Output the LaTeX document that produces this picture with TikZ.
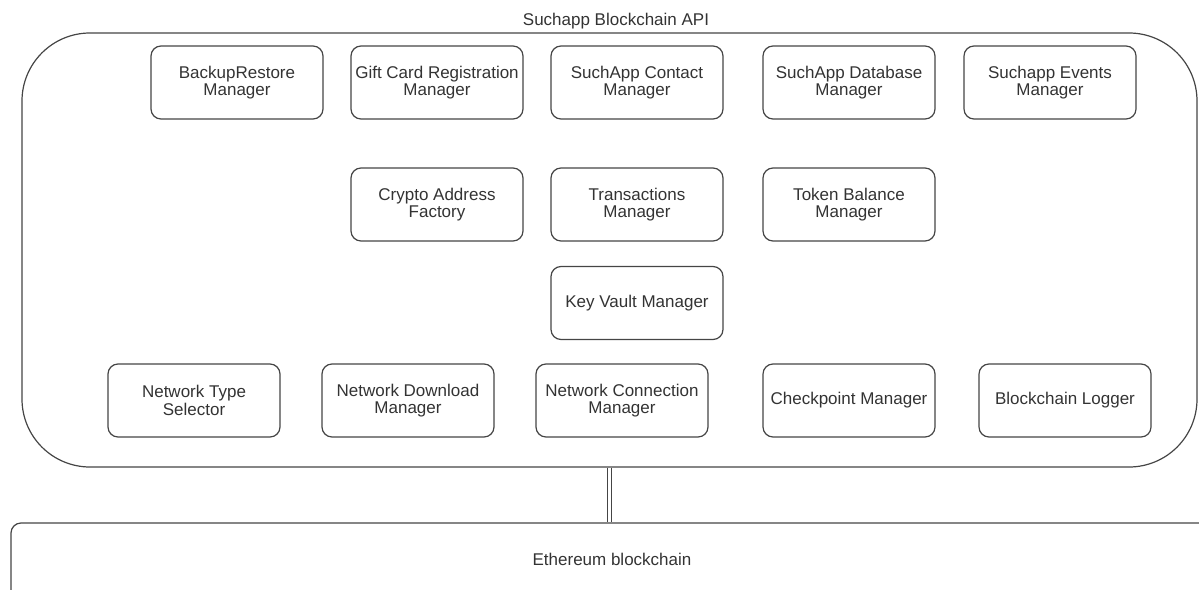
\documentclass[tikz,border=0pt]{standalone}
\usepackage{fontspec}
\setmainfont{Liberation Sans}
\usepackage{xcolor}
\definecolor{edge}{gray}{0.27}
\definecolor{ink}{gray}{0.2}

\begin{document}
\begin{tikzpicture}[x=1pt, y=-1pt,
		manager/.style={draw=edge, line width=1.2pt, rounded corners=10pt, minimum width=172pt, minimum height=73pt, inner sep=1pt, align=center, text=ink, font=\fontsize{17}{17.5}\selectfont},
		layer/.style={draw=edge, line width=1.2pt, inner sep=0pt},
		label/.style={text=ink, font=\fontsize{17}{17.5}\selectfont},
		link/.style={draw=edge, line width=0.9pt, double=white, double distance=3.5pt}]
			\useasboundingbox (0,0) rectangle (1199,589);
			\clip (0,0) rectangle (1199,589);
			
			% outer layers
			\node [layer, rounded corners=68pt, minimum width=1175pt, minimum height=434pt] (api) at (609.5,250) {};
			\node [layer, rounded corners=10pt, minimum width=1230pt, minimum height=110pt] (eth) at (626,578) {};
			\node [label] (apititle) at (616,21) {Suchapp Blockchain API};
			\node [label] (ethtitle) at (612,559) {Ethereum blockchain};
			
			% top row
			\node [manager] (backup) at (237,82.5) {BackupRestore\\Manager};
			\node [manager] (giftcard) at (437,82.5) {Gift Card Registration\\Manager};
			\node [manager] (contact) at (637,82.5) {SuchApp Contact\\Manager};
			\node [manager] (database) at (849,82.5) {SuchApp Database\\Manager};
			\node [manager] (events) at (1050,82.5) {Suchapp Events\\Manager};
			
			% middle rows
			\node [manager] (address) at (437,204.5) {Crypto Address\\Factory};
			\node [manager] (transactions) at (637,204.5) {Transactions\\Manager};
			\node [manager] (balance) at (849,204.5) {Token Balance\\Manager};
			\node [manager] (keyvault) at (637,303) {Key Vault Manager};
			
			% bottom row
			\node [manager] (nettype) at (194,400.5) {Network Type\\Selector};
			\node [manager] (download) at (408,400.5) {Network Download\\Manager};
			\node [manager] (connection) at (622,400.5) {Network Connection\\Manager};
			\node [manager] (checkpoint) at (849,400.5) {Checkpoint Manager};
			\node [manager] (logger) at (1065,400.5) {Blockchain Logger};
			
			\draw [link] (api.south) -- (api.south |- eth.north);
		\end{tikzpicture}
\end{document}
